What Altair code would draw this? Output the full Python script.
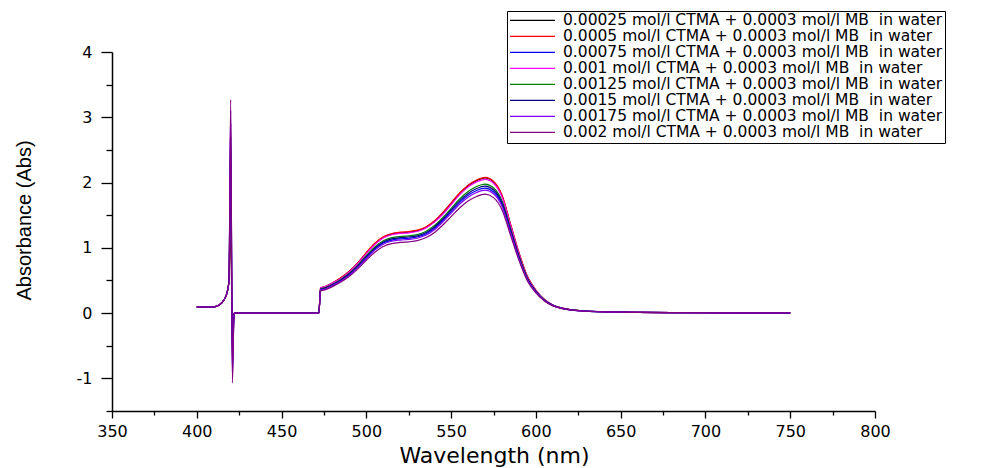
import altair as alt
import pandas as pd

# ---------------- data ----------------
wavelength = [400, 405, 410, 413, 416, 418, 419, 420, 421, 422, 430, 440, 450, 460, 470, 472,
              473, 475, 480, 485, 490, 495, 500, 505, 510, 515, 520, 525, 530, 535, 540, 545, 550,
              555, 560, 565, 570, 575, 580, 585, 590, 595, 600, 605, 610, 615, 620,
              630, 640, 650, 660, 680, 700, 720, 750]

labels = [
    "0.00025 mol/l CTMA + 0.0003 mol/l MB\u00a0 in water",
    "0.0005 mol/l CTMA + 0.0003 mol/l MB\u00a0 in water",
    "0.00075 mol/l CTMA + 0.0003 mol/l MB\u00a0 in water",
    "0.001 mol/l CTMA + 0.0003 mol/l MB\u00a0 in water",
    "0.00125 mol/l CTMA + 0.0003 mol/l MB\u00a0 in water",
    "0.0015 mol/l CTMA + 0.0003 mol/l MB\u00a0 in water",
    "0.00175 mol/l CTMA + 0.0003 mol/l MB\u00a0 in water",
    "0.002 mol/l CTMA + 0.0003 mol/l MB\u00a0 in water",
]
colors = ["#000000", "#ff0000", "#0000ff", "#ff00ff", "#008000", "#000080", "#8000ff", "#800080"]

# 400-419 nm (shared by all series)
pre_edge = [0.09, 0.09, 0.095, 0.12, 0.2, 0.33, 0.5]
# 420 nm / 421 nm spike (max, min) per series
spike_max = [1.3, 1.7, 2.1, 2.4, 2.7, 2.9, 3.1, 3.27]
spike_min = [-0.35, -0.5, -0.6, -0.7, -0.8, -0.9, -1.0, -1.07]
# 422-472 nm
flat_gap = [0, 0, 0, 0, 0, 0, 0]

# 473-750 nm per series
bump_1 = [0.39, 0.40, 0.46, 0.54, 0.64, 0.77, 0.92, 1.06, 1.16, 1.21, 1.23, 1.24, 1.26, 1.31, 1.40, 1.53, 1.68,
          1.83, 1.95, 2.03, 2.07, 2.01, 1.80, 1.36, 0.92, 0.56, 0.35, 0.21, 0.125, 0.08, 0.055,
          0.032, 0.022, 0.016, 0.012, 0.008, 0.005, 0.003, 0.002]
bump_2 = [0.39, 0.40, 0.46, 0.54, 0.64, 0.77, 0.93, 1.07, 1.17, 1.22, 1.24, 1.25, 1.27, 1.32, 1.41, 1.54, 1.69,
          1.84, 1.96, 2.04, 2.08, 2.02, 1.81, 1.37, 0.93, 0.56, 0.35, 0.21, 0.125, 0.08, 0.055,
          0.032, 0.022, 0.016, 0.012, 0.008, 0.005, 0.003, 0.002]
bump_3 = [0.361, 0.370, 0.426, 0.500, 0.592, 0.712, 0.851, 0.981, 1.073, 1.119, 1.138, 1.147, 1.166, 1.212, 1.295, 1.415, 1.554,
          1.693, 1.804, 1.878, 1.915, 1.859, 1.665, 1.258, 0.851, 0.518, 0.324, 0.194, 0.116, 0.074, 0.051,
          0.030, 0.020, 0.015, 0.011, 0.007, 0.005, 0.003, 0.002]
bump_4 = [0.39, 0.40, 0.46, 0.53, 0.63, 0.76, 0.91, 1.05, 1.15, 1.20, 1.22, 1.23, 1.25, 1.30, 1.39, 1.51, 1.66,
          1.81, 1.93, 2.01, 2.05, 1.99, 1.78, 1.35, 0.91, 0.55, 0.35, 0.21, 0.124, 0.079, 0.054,
          0.032, 0.022, 0.016, 0.012, 0.008, 0.005, 0.003, 0.002]
bump_5 = [0.372, 0.382, 0.439, 0.516, 0.611, 0.735, 0.879, 1.012, 1.108, 1.156, 1.175, 1.184, 1.203, 1.251, 1.337, 1.461, 1.604,
          1.748, 1.862, 1.939, 1.977, 1.920, 1.719, 1.299, 0.879, 0.535, 0.334, 0.201, 0.119, 0.076, 0.053,
          0.031, 0.021, 0.015, 0.011, 0.008, 0.005, 0.003, 0.002]
bump_6 = [0.367, 0.376, 0.432, 0.508, 0.602, 0.724, 0.865, 0.996, 1.090, 1.137, 1.156, 1.166, 1.184, 1.231, 1.316, 1.438, 1.579,
          1.720, 1.833, 1.908, 1.946, 1.889, 1.692, 1.278, 0.865, 0.526, 0.329, 0.197, 0.118, 0.075, 0.052,
          0.030, 0.021, 0.015, 0.011, 0.008, 0.005, 0.003, 0.002]
bump_7 = [0.355, 0.364, 0.419, 0.491, 0.582, 0.701, 0.837, 0.965, 1.056, 1.101, 1.119, 1.128, 1.147, 1.192, 1.274, 1.392, 1.529,
          1.665, 1.775, 1.847, 1.884, 1.829, 1.638, 1.238, 0.837, 0.510, 0.319, 0.191, 0.114, 0.073, 0.050,
          0.029, 0.020, 0.015, 0.011, 0.007, 0.005, 0.003, 0.002]
bump_8 = [0.343, 0.352, 0.405, 0.475, 0.563, 0.678, 0.810, 0.933, 1.021, 1.065, 1.082, 1.091, 1.109, 1.153, 1.232, 1.346, 1.478,
          1.610, 1.716, 1.786, 1.822, 1.769, 1.584, 1.197, 0.810, 0.493, 0.308, 0.185, 0.110, 0.070, 0.048,
          0.028, 0.019, 0.014, 0.011, 0.007, 0.004, 0.003, 0.002]
bumps = [bump_1, bump_2, bump_3, bump_4, bump_5, bump_6, bump_7, bump_8]

x_ticks = [350, 375, 400, 425, 450, 475, 500, 525, 550, 575, 600, 625, 650, 675, 700, 725, 750, 775, 800]
y_ticks = [-1.5, -1, -0.5, 0, 0.5, 1, 1.5, 2, 2.5, 3, 3.5, 4]

# ---------------- table ----------------
rows = []
for i, lab in enumerate(labels):
    vals = pre_edge + [spike_max[i], spike_min[i]] + flat_gap + bumps[i]
    for w, v in zip(wavelength, vals):
        rows.append({"series": lab, "order": i, "wavelength": w, "absorbance": v})
df = pd.DataFrame(rows)

# ---------------- chart ----------------
x_axis = alt.Axis(
    values=x_ticks,
    labelExpr="datum.value % 50 === 0 ? datum.label : ''",
    tickSize={"condition": {"test": "datum.value % 50 === 0", "value": 7}, "value": 4},
    labelFont="DejaVu Sans", labelFontSize=16, labelPadding=5, labelColor="black",
    labelFlush=False, labelOverlap=False,
    title="Wavelength (nm)", titleFont="DejaVu Sans", titleFontSize=22, titleFontWeight="normal",
    titleColor="black", titleX=382, titleY=51, titleBaseline="alphabetic", titleAlign="center",
    grid=False,
)
y_axis = alt.Axis(
    values=y_ticks,
    labelExpr="datum.value % 1 === 0 ? '' + datum.value : ''",
    tickSize={"condition": {"test": "datum.value % 1 === 0", "value": 11}, "value": 6},
    labelFont="DejaVu Sans", labelFontSize=16, labelPadding=9, labelColor="black",
    labelFlush=False, labelOverlap=False,
    title="Absorbance (Abs)", titleFont="Liberation Sans", titleFontSize=20, titleFontWeight="normal",
    titleColor="black", titleAngle=270, titleX=-88, titleY=168, titleBaseline="middle", titleAlign="center",
    grid=False,
)

chart = alt.Chart(df).mark_line(strokeWidth=1.2, interpolate="monotone").encode(
    x=alt.X("wavelength:Q", scale=alt.Scale(domain=[350, 800], nice=False, zero=False), axis=x_axis),
    y=alt.Y("absorbance:Q", scale=alt.Scale(domain=[-1.5, 4], nice=False, zero=False), axis=y_axis),
    color=alt.Color(
        "series:N",
        scale=alt.Scale(domain=labels, range=colors),
        legend=alt.Legend(
            title=None, orient="none", legendX=395, legendY=-41,
            symbolType="stroke", symbolSize=2025, symbolStrokeWidth=1.2,
            labelFont="DejaVu Sans", labelFontSize=15.5, labelColor="black", labelOffset=7, labelLimit=600,
            clipHeight=14.6, rowPadding=0, padding=2,
            strokeColor="black", fillColor="white",
        ),
    ),
).properties(
    width=763, height=359,
    autosize=alt.AutoSizeParams(type="none"),
    padding={"left": 104, "top": 44, "right": 93, "bottom": 57},
).configure_axis(
    domainColor="black", domainWidth=1.5, tickColor="black", tickWidth=1.3,
).configure_view(strokeWidth=0)

chart.save("out.html", embed_options={"renderer": "svg", "actions": False})
